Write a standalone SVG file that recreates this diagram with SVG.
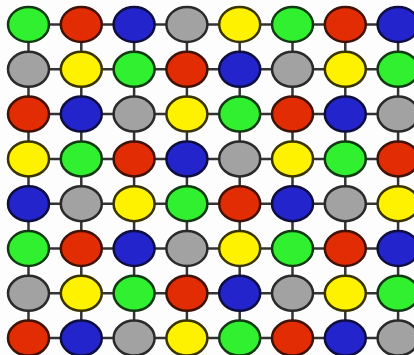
<svg xmlns="http://www.w3.org/2000/svg" width="414" height="355" viewBox="0 0 414 355">
<style>
.bg{fill:#fdfdfd}
.e{stroke-width:2.5}
.g{fill:#30f030;stroke:#123a12}
.r{fill:#e22c04;stroke:#401206}
.b{fill:#2424cc;stroke:#0e0e40}
.k{fill:#a2a2a2;stroke:#2a2a2a}
.y{fill:#fff200;stroke:#3a3400}
.c line{stroke:#333;stroke-width:2.5}
</style>
<rect class="bg" x="0" y="0" width="414" height="355"/>
<g id="connectors" class="c">
<line x1="28.5" y1="24.5" x2="414" y2="24.5"/>
<line x1="28.5" y1="69.3" x2="414" y2="69.3"/>
<line x1="28.5" y1="114.1" x2="414" y2="114.1"/>
<line x1="28.5" y1="158.9" x2="414" y2="158.9"/>
<line x1="28.5" y1="203.7" x2="414" y2="203.7"/>
<line x1="28.5" y1="248.5" x2="414" y2="248.5"/>
<line x1="28.5" y1="293.3" x2="414" y2="293.3"/>
<line x1="28.5" y1="338.1" x2="414" y2="338.1"/>
<line x1="28.5" y1="24.5" x2="28.5" y2="355"/>
<line x1="81.3" y1="24.5" x2="81.3" y2="355"/>
<line x1="134.1" y1="24.5" x2="134.1" y2="355"/>
<line x1="186.9" y1="24.5" x2="186.9" y2="355"/>
<line x1="239.7" y1="24.5" x2="239.7" y2="355"/>
<line x1="292.5" y1="24.5" x2="292.5" y2="355"/>
<line x1="345.3" y1="24.5" x2="345.3" y2="355"/>
<line x1="398.1" y1="24.5" x2="398.1" y2="355"/>
</g>
<g id="n0_0"><ellipse class="e g" cx="28.5" cy="24.5" rx="20.5" ry="17.5"/></g>
<g id="n0_1"><ellipse class="e r" cx="81.3" cy="24.5" rx="20.5" ry="17.5"/></g>
<g id="n0_2"><ellipse class="e b" cx="134.1" cy="24.5" rx="20.5" ry="17.5"/></g>
<g id="n0_3"><ellipse class="e k" cx="186.9" cy="24.5" rx="20.5" ry="17.5"/></g>
<g id="n0_4"><ellipse class="e y" cx="239.7" cy="24.5" rx="20.5" ry="17.5"/></g>
<g id="n0_5"><ellipse class="e g" cx="292.5" cy="24.5" rx="20.5" ry="17.5"/></g>
<g id="n0_6"><ellipse class="e r" cx="345.3" cy="24.5" rx="20.5" ry="17.5"/></g>
<g id="n0_7"><ellipse class="e b" cx="398.1" cy="24.5" rx="20.5" ry="17.5"/></g>
<g id="n1_0"><ellipse class="e k" cx="28.5" cy="69.3" rx="20.5" ry="17.5"/></g>
<g id="n1_1"><ellipse class="e y" cx="81.3" cy="69.3" rx="20.5" ry="17.5"/></g>
<g id="n1_2"><ellipse class="e g" cx="134.1" cy="69.3" rx="20.5" ry="17.5"/></g>
<g id="n1_3"><ellipse class="e r" cx="186.9" cy="69.3" rx="20.5" ry="17.5"/></g>
<g id="n1_4"><ellipse class="e b" cx="239.7" cy="69.3" rx="20.5" ry="17.5"/></g>
<g id="n1_5"><ellipse class="e k" cx="292.5" cy="69.3" rx="20.5" ry="17.5"/></g>
<g id="n1_6"><ellipse class="e y" cx="345.3" cy="69.3" rx="20.5" ry="17.5"/></g>
<g id="n1_7"><ellipse class="e g" cx="398.1" cy="69.3" rx="20.5" ry="17.5"/></g>
<g id="n2_0"><ellipse class="e r" cx="28.5" cy="114.1" rx="20.5" ry="17.5"/></g>
<g id="n2_1"><ellipse class="e b" cx="81.3" cy="114.1" rx="20.5" ry="17.5"/></g>
<g id="n2_2"><ellipse class="e k" cx="134.1" cy="114.1" rx="20.5" ry="17.5"/></g>
<g id="n2_3"><ellipse class="e y" cx="186.9" cy="114.1" rx="20.5" ry="17.5"/></g>
<g id="n2_4"><ellipse class="e g" cx="239.7" cy="114.1" rx="20.5" ry="17.5"/></g>
<g id="n2_5"><ellipse class="e r" cx="292.5" cy="114.1" rx="20.5" ry="17.5"/></g>
<g id="n2_6"><ellipse class="e b" cx="345.3" cy="114.1" rx="20.5" ry="17.5"/></g>
<g id="n2_7"><ellipse class="e k" cx="398.1" cy="114.1" rx="20.5" ry="17.5"/></g>
<g id="n3_0"><ellipse class="e y" cx="28.5" cy="158.9" rx="20.5" ry="17.5"/></g>
<g id="n3_1"><ellipse class="e g" cx="81.3" cy="158.9" rx="20.5" ry="17.5"/></g>
<g id="n3_2"><ellipse class="e r" cx="134.1" cy="158.9" rx="20.5" ry="17.5"/></g>
<g id="n3_3"><ellipse class="e b" cx="186.9" cy="158.9" rx="20.5" ry="17.5"/></g>
<g id="n3_4"><ellipse class="e k" cx="239.7" cy="158.9" rx="20.5" ry="17.5"/></g>
<g id="n3_5"><ellipse class="e y" cx="292.5" cy="158.9" rx="20.5" ry="17.5"/></g>
<g id="n3_6"><ellipse class="e g" cx="345.3" cy="158.9" rx="20.5" ry="17.5"/></g>
<g id="n3_7"><ellipse class="e r" cx="398.1" cy="158.9" rx="20.5" ry="17.5"/></g>
<g id="n4_0"><ellipse class="e b" cx="28.5" cy="203.7" rx="20.5" ry="17.5"/></g>
<g id="n4_1"><ellipse class="e k" cx="81.3" cy="203.7" rx="20.5" ry="17.5"/></g>
<g id="n4_2"><ellipse class="e y" cx="134.1" cy="203.7" rx="20.5" ry="17.5"/></g>
<g id="n4_3"><ellipse class="e g" cx="186.9" cy="203.7" rx="20.5" ry="17.5"/></g>
<g id="n4_4"><ellipse class="e r" cx="239.7" cy="203.7" rx="20.5" ry="17.5"/></g>
<g id="n4_5"><ellipse class="e b" cx="292.5" cy="203.7" rx="20.5" ry="17.5"/></g>
<g id="n4_6"><ellipse class="e k" cx="345.3" cy="203.7" rx="20.5" ry="17.5"/></g>
<g id="n4_7"><ellipse class="e y" cx="398.1" cy="203.7" rx="20.5" ry="17.5"/></g>
<g id="n5_0"><ellipse class="e g" cx="28.5" cy="248.5" rx="20.5" ry="17.5"/></g>
<g id="n5_1"><ellipse class="e r" cx="81.3" cy="248.5" rx="20.5" ry="17.5"/></g>
<g id="n5_2"><ellipse class="e b" cx="134.1" cy="248.5" rx="20.5" ry="17.5"/></g>
<g id="n5_3"><ellipse class="e k" cx="186.9" cy="248.5" rx="20.5" ry="17.5"/></g>
<g id="n5_4"><ellipse class="e y" cx="239.7" cy="248.5" rx="20.5" ry="17.5"/></g>
<g id="n5_5"><ellipse class="e g" cx="292.5" cy="248.5" rx="20.5" ry="17.5"/></g>
<g id="n5_6"><ellipse class="e r" cx="345.3" cy="248.5" rx="20.5" ry="17.5"/></g>
<g id="n5_7"><ellipse class="e b" cx="398.1" cy="248.5" rx="20.5" ry="17.5"/></g>
<g id="n6_0"><ellipse class="e k" cx="28.5" cy="293.3" rx="20.5" ry="17.5"/></g>
<g id="n6_1"><ellipse class="e y" cx="81.3" cy="293.3" rx="20.5" ry="17.5"/></g>
<g id="n6_2"><ellipse class="e g" cx="134.1" cy="293.3" rx="20.5" ry="17.5"/></g>
<g id="n6_3"><ellipse class="e r" cx="186.9" cy="293.3" rx="20.5" ry="17.5"/></g>
<g id="n6_4"><ellipse class="e b" cx="239.7" cy="293.3" rx="20.5" ry="17.5"/></g>
<g id="n6_5"><ellipse class="e k" cx="292.5" cy="293.3" rx="20.5" ry="17.5"/></g>
<g id="n6_6"><ellipse class="e y" cx="345.3" cy="293.3" rx="20.5" ry="17.5"/></g>
<g id="n6_7"><ellipse class="e g" cx="398.1" cy="293.3" rx="20.5" ry="17.5"/></g>
<g id="n7_0"><ellipse class="e r" cx="28.5" cy="338.1" rx="20.5" ry="17.5"/></g>
<g id="n7_1"><ellipse class="e b" cx="81.3" cy="338.1" rx="20.5" ry="17.5"/></g>
<g id="n7_2"><ellipse class="e k" cx="134.1" cy="338.1" rx="20.5" ry="17.5"/></g>
<g id="n7_3"><ellipse class="e y" cx="186.9" cy="338.1" rx="20.5" ry="17.5"/></g>
<g id="n7_4"><ellipse class="e g" cx="239.7" cy="338.1" rx="20.5" ry="17.5"/></g>
<g id="n7_5"><ellipse class="e r" cx="292.5" cy="338.1" rx="20.5" ry="17.5"/></g>
<g id="n7_6"><ellipse class="e b" cx="345.3" cy="338.1" rx="20.5" ry="17.5"/></g>
<g id="n7_7"><ellipse class="e k" cx="398.1" cy="338.1" rx="20.5" ry="17.5"/></g>
</svg>
